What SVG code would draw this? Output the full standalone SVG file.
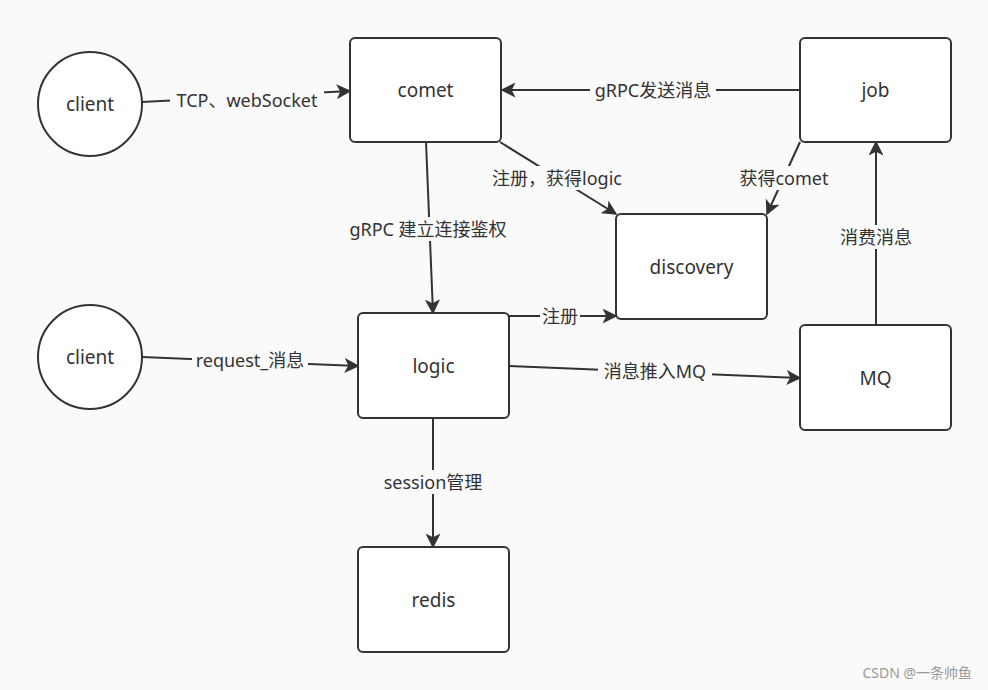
<svg xmlns="http://www.w3.org/2000/svg" width="988" height="690" viewBox="0 0 988 690">
<style>
.n{fill:#fff;stroke:#333;stroke-width:2}
.t{font-family:"Noto Sans","Noto Sans CJK SC",sans-serif;font-size:19px;fill:#333;text-anchor:middle;dominant-baseline:central}
.l{font-family:"Noto Sans","Noto Sans CJK SC",sans-serif;font-size:18px;fill:#333;text-anchor:middle;dominant-baseline:central}
.lb{fill:#fafafa}
.c{stroke:#333;stroke-width:2;fill:none;marker-end:url(#a)}
</style>
<defs><marker id="a" viewBox="0 0 10 10" refX="9" refY="5" markerWidth="15" markerHeight="15" markerUnits="userSpaceOnUse" orient="auto"><path d="M0,0 L10,5 L0,10 L2.5,5 z" fill="#333"/></marker></defs>
<rect width="988" height="690" fill="#fafafa"/>
<g id="connectors">
<path class="c" d="M142,102 L350,91"/>
<path class="c" d="M800,90 L502,90"/>
<path class="c" d="M500,142 L616,214"/>
<path class="c" d="M800,142 L767,214"/>
<path class="c" d="M426,142 L433,313"/>
<path class="c" d="M509,316 L616,316"/>
<path class="c" d="M142,357 L358,366"/>
<path class="c" d="M509,366 L800,378"/>
<path class="c" d="M876,325 L876,142"/>
<path class="c" d="M433,418 L433,547"/>
<rect class="lb" x="170" y="88" width="154" height="24"/><text class="l" x="247" y="100">TCP、webSocket</text>
<rect class="lb" x="590" y="78" width="126" height="24"/><text class="l" x="653" y="90">gRPC发送消息</text>
<rect class="lb" x="486" y="166" width="142" height="24"/><text class="l" x="557" y="178">注册，获得logic</text>
<rect class="lb" x="736" y="166" width="96" height="24"/><text class="l" x="784" y="178">获得comet</text>
<rect class="lb" x="342" y="217" width="174" height="24"/><text class="l" x="428" y="229">gRPC 建立连接鉴权</text>
<rect class="lb" x="540" y="304" width="40" height="24"/><text class="l" x="560" y="316">注册</text>
<rect class="lb" x="192" y="348" width="116" height="24"/><text class="l" x="250" y="360">request_消息</text>
<rect class="lb" x="598" y="359" width="114" height="24"/><text class="l" x="655" y="371">消息推入MQ</text>
<rect class="lb" x="838" y="225" width="76" height="24"/><text class="l" x="876" y="237">消费消息</text>
<rect class="lb" x="380" y="470" width="106" height="24"/><text class="l" x="433" y="482">session管理</text>
</g>
<g id="client1"><circle class="n" cx="90" cy="104" r="52"/><text class="t" x="90" y="104">client</text></g>
<g id="comet"><rect class="n" x="350" y="38" width="151" height="104" rx="5"/><text class="t" x="425.5" y="90">comet</text></g>
<g id="job"><rect class="n" x="800" y="38" width="151" height="104" rx="5"/><text class="t" x="875.5" y="90">job</text></g>
<g id="discovery"><rect class="n" x="616" y="214" width="151" height="105" rx="5"/><text class="t" x="691.5" y="267">discovery</text></g>
<g id="client2"><circle class="n" cx="90" cy="357" r="52"/><text class="t" x="90" y="357">client</text></g>
<g id="logic"><rect class="n" x="358" y="313" width="151" height="105" rx="5"/><text class="t" x="433.5" y="366">logic</text></g>
<g id="MQ"><rect class="n" x="800" y="325" width="151" height="105" rx="5"/><text class="t" x="875.5" y="378">MQ</text></g>
<g id="redis"><rect class="n" x="358" y="547" width="151" height="105" rx="5"/><text class="t" x="433.5" y="600">redis</text></g>
<text x="972" y="672" font-family="Noto Sans,'Noto Sans CJK SC',sans-serif" font-size="14" fill="#999" text-anchor="end" dominant-baseline="central">CSDN @一条帅鱼</text>
</svg>
